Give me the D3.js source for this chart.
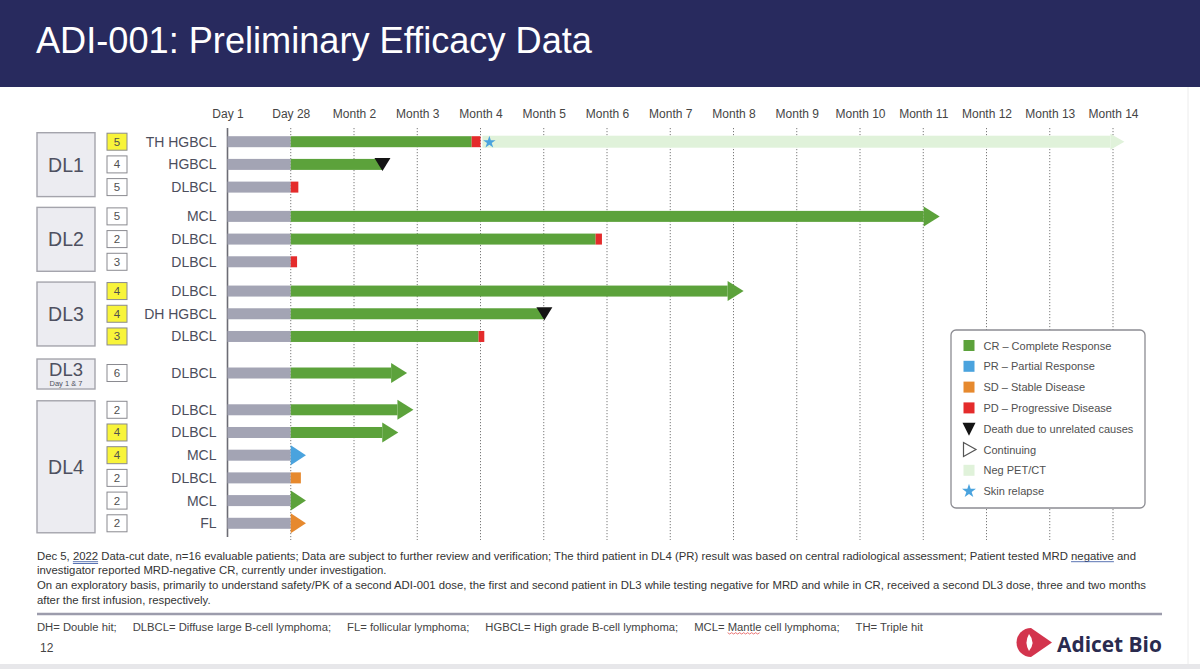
<!DOCTYPE html>
<html>
<head>
<meta charset="utf-8">
<script src="https://cdn.jsdelivr.net/npm/d3@7"></script>
<style>
  body { margin: 0; background: #fff; }
  svg { display: block; font-family: "Liberation Sans", Arial, sans-serif; }
</style>
</head>
<body>
<script>
// patients, top to bottom
const rowLabels = ["TH HGBCL", "HGBCL", "DLBCL", "MCL", "DLBCL", "DLBCL", "DLBCL", "DH HGBCL",
  "DLBCL", "DLBCL", "DLBCL", "DLBCL", "MCL", "DLBCL", "MCL", "FL"];
const rowGroup = [0, 0, 0, 1, 1, 1, 2, 2, 2, 3, 4, 4, 4, 4, 4, 4];
const rowCount = [5, 4, 5, 5, 2, 3, 4, 4, 3, 6, 2, 4, 4, 2, 2, 2];
const rowHighlight = [1, 0, 0, 0, 0, 0, 1, 1, 1, 0, 0, 1, 1, 0, 0, 0];

// dose level cohorts
const groupNames = ["DL1", "DL2", "DL3", "DL3", "DL4"];
const groupNotes = ["", "", "", "Day 1 & 7", ""];

// time axis, one unit per month (Day 1 = 0, Day 28 = 1)
const timeTicks = ["Day 1", "Day 28", "Month 2", "Month 3", "Month 4", "Month 5", "Month 6", "Month 7",
  "Month 8", "Month 9", "Month 10", "Month 11", "Month 12", "Month 13", "Month 14"];

// response phase after Day 28
const responseType = ["CR", "CR", null, "CR", "CR", null, "CR", "CR", "CR", "CR", "CR", "CR", "PR", "SD", "CR", "SD"];
const responseEnd = [3.86, 2.45, null, 11.26, 5.82, null, 8.16, 5.01, 3.97, 2.84, 2.94, 2.70, 1.24, 1.16, 1.24, 1.24];
const progressionEnd = [4.0, null, 1.12, null, 5.92, 1.1, null, null, 4.06, null, null, null, null, null, null, null];
const outcome = ["", "death", "", "continuing", "", "", "continuing", "death", "", "continuing",
  "continuing", "continuing", "continuing", "", "continuing", "continuing"];

// neg PET/CT follow up and skin relapse
const negPetRow = [0];
const negPetStart = [4.03];
const negPetEnd = [14.18];
const relapseRow = [0];
const relapseAt = [4.14];

// legend
const legendKeys = ["CR", "PR", "SD", "PD", "death", "continuing", "neg", "star"];
const legendLabels = ["CR \u2013 Complete Response", "PR \u2013  Partial Response", "SD \u2013 Stable Disease",
  "PD \u2013 Progressive Disease", "Death due to unrelated causes", "Continuing", "Neg PET/CT", "Skin relapse"];

const footnotes = [
  "Dec 5, |2022| Data-cut date, n=16 evaluable patients; Data are subject to further review and verification; The third patient in DL4 (PR) result was based on central radiological assessment; Patient tested MRD |negative| and",
  "investigator reported MRD-negative CR, currently under investigation.",
  "On an exploratory basis, primarily to understand safety/PK of a second ADI-001 dose, the first and second patient in DL3 while testing negative for MRD and while in CR, received a second DL3 dose, three and two months",
  "after the first infusion, respectively."
];
const abbreviations = ["DH= Double hit;", "DLBCL= Diffuse large B-cell lymphoma;", "FL= follicular lymphoma;",
  "HGBCL= High grade B-cell lymphoma;", "MCL= Mantle cell lymphoma;", "TH= Triple hit"];

const colors = { CR: "#5ca23b", PR: "#4aa3de", SD: "#e6892e", PD: "#e42b2b", neg: "#e0f2da", gray: "#a3a4b4" };

const W = 1200, H = 669;
const svg = d3.select("body").append("svg").attr("width", W).attr("height", H);

// header
svg.append("rect").attr("width", W).attr("height", 87).attr("fill", "#282a5e");
const title = svg.append("text").attr("x", 36).attr("y", 53).attr("fill", "#fff")
  .attr("font-size", 31).text("ADI-001: Preliminary Efficacy Data");
fitFont(title, 556);

// faint slide edges
svg.append("rect").attr("x", 0).attr("y", 664).attr("width", W).attr("height", 5).attr("fill", "#e7e7ea");
svg.append("line").attr("x1", 1188).attr("x2", 1188).attr("y1", 87).attr("y2", 664)
  .attr("stroke", "#ececec");

// scales
const x = d3.scaleLinear().domain([0, 14]).range([227.5, 1113]);
const gapAfter = [0.29, 0.29, 0.61, 0.62];
const slot = rowLabels.map((d, i) => i + d3.sum(gapAfter.slice(0, rowGroup[i])));
const y = d3.scaleLinear().domain([0, 1]).range([141.7, 164.4]);
const rowY = slot.map(s => y(s));
const barH = 11;

// axis labels on top
const axis = d3.axisTop(x).tickValues(d3.range(timeTicks.length))
  .tickFormat(i => timeTicks[i]).tickSize(0).tickPadding(4);
const ga = svg.append("g").attr("transform", "translate(0,122)").call(axis);
ga.select(".domain").remove();
ga.selectAll("text").attr("font-size", 12).attr("fill", "#454545")
  .attr("font-family", "'Liberation Sans', Arial, sans-serif");

// grid lines
svg.append("g").selectAll("line").data(d3.range(1, timeTicks.length)).join("line")
  .attr("x1", d => x(d)).attr("x2", d => x(d)).attr("y1", 128).attr("y2", 540)
  .attr("stroke", "#7a7a7a").attr("stroke-width", 1).attr("stroke-dasharray", "1.2,1.8");
svg.append("line").attr("x1", x(0)).attr("x2", x(0)).attr("y1", 128).attr("y2", 537)
  .attr("stroke", "#6c6c74").attr("stroke-width", 1.6);

// cohort boxes
const groupBoxes = groupNames.map((name, g) => {
  const ys = rowY.filter((d, i) => rowGroup[i] === g);
  let top = d3.min(ys) - 9, bottom = d3.max(ys) + 9.5;
  if (groupNotes[g]) { top = d3.min(ys) - 14; bottom = d3.max(ys) + 16; }
  return { name, note: groupNotes[g], top, bottom };
});
const gb = svg.append("g").selectAll("g").data(groupBoxes).join("g");
gb.append("rect").attr("x", 37).attr("width", 58)
  .attr("y", d => d.top).attr("height", d => d.bottom - d.top)
  .attr("fill", "#ececf1").attr("stroke", "#a4a4ac").attr("stroke-width", 1.4);
gb.append("text").attr("x", 66).attr("text-anchor", "middle")
  .attr("y", d => d.note ? (d.top + d.bottom) / 2 + 1.5 : (d.top + d.bottom) / 2 + 7)
  .attr("font-size", d => d.note ? 18.5 : 19.5).attr("fill", "#4e5060").text(d => d.name);
gb.filter(d => d.note).append("text").attr("x", 66).attr("text-anchor", "middle")
  .attr("y", d => (d.top + d.bottom) / 2 + 11.5).attr("font-size", 7.5).attr("fill", "#4e5060")
  .text(d => d.note);

// cohort counts
const nb = svg.append("g").selectAll("g").data(rowCount).join("g")
  .attr("transform", (d, i) => `translate(107,${rowY[i]})`);
nb.append("rect").attr("x", 0).attr("y", -8.5).attr("width", 20).attr("height", 17)
  .attr("fill", (d, i) => rowHighlight[i] ? "#f8f43a" : "#fff")
  .attr("stroke", "#8a8a90").attr("stroke-width", 1);
nb.append("text").attr("x", 10).attr("y", 4).attr("text-anchor", "middle")
  .attr("font-size", 11.5).attr("fill", "#505050").text(d => d);

// row labels
svg.append("g").selectAll("text").data(rowLabels).join("text")
  .attr("x", 216.5).attr("y", (d, i) => rowY[i] + 5).attr("text-anchor", "end")
  .attr("font-size", 14).attr("fill", "#4c4e5c").text(d => d);

// neg PET/CT arrow
const bars = svg.append("g");
negPetRow.forEach((r, k) => {
  const x0 = x(negPetStart[k]), x1 = x(negPetEnd[k]), yy = rowY[r], head = 14;
  bars.append("rect").attr("x", x0).attr("y", yy - 6).attr("width", x1 - head - x0).attr("height", 12)
    .attr("fill", colors.neg);
  bars.append("path").attr("d", `M${x1 - head},${yy - 8}L${x1},${yy}L${x1 - head},${yy + 8}Z`)
    .attr("fill", colors.neg);
});

// Day 1 to Day 28
bars.selectAll(".pre").data(rowY).join("rect").attr("class", "pre")
  .attr("x", x(0)).attr("width", x(1) - x(0)).attr("y", d => d - barH / 2).attr("height", barH)
  .attr("fill", colors.gray);

// response segments
rowY.forEach((yy, i) => {
  if (!responseType[i]) return;
  const c = colors[responseType[i]];
  const x0 = x(1), x1 = x(responseEnd[i]);
  if (outcome[i] === "continuing") {
    const head = 16;
    const base = Math.max(x0, x1 - head);
    if (base > x0) bars.append("rect").attr("x", x0).attr("y", yy - barH / 2)
      .attr("width", base - x0).attr("height", barH).attr("fill", c);
    bars.append("path").attr("d", `M${base},${yy - 10}L${x1},${yy}L${base},${yy + 10}Z`).attr("fill", c);
  } else {
    bars.append("rect").attr("x", x0).attr("y", yy - barH / 2)
      .attr("width", x1 - x0).attr("height", barH).attr("fill", c);
  }
});

// progression
rowY.forEach((yy, i) => {
  if (progressionEnd[i] == null) return;
  const x0 = x(responseEnd[i] != null ? responseEnd[i] : 1);
  bars.append("rect").attr("x", x0).attr("y", yy - barH / 2)
    .attr("width", x(progressionEnd[i]) - x0).attr("height", barH).attr("fill", colors.PD);
});

// deaths
rowY.forEach((yy, i) => {
  if (outcome[i] !== "death") return;
  const xx = x(responseEnd[i]);
  bars.append("path").attr("d", `M${xx - 8},${yy - 6.5}L${xx + 8},${yy - 6.5}L${xx},${yy + 6.5}Z`)
    .attr("fill", "#141414");
});

// skin relapse
relapseRow.forEach((r, k) => {
  bars.append("path").attr("d", d3.symbol(d3.symbolStar, 48)())
    .attr("transform", `translate(${x(relapseAt[k])},${rowY[r] + 0.5})`).attr("fill", colors.PR);
});

// legend
const lg = svg.append("g");
lg.append("rect").attr("x", 951).attr("y", 330).attr("width", 194).attr("height", 178).attr("rx", 5)
  .attr("fill", "#fff").attr("stroke", "#8c8c92").attr("stroke-width", 1.3);
const li = lg.selectAll("g").data(legendKeys).join("g")
  .attr("transform", (d, i) => `translate(969,${345.5 + i * 20.8})`);
li.filter(d => colors[d]).append("rect").attr("x", -5.5).attr("y", -5.5).attr("width", 11).attr("height", 11)
  .attr("fill", d => colors[d]);
li.filter(d => d === "death").append("path").attr("d", "M-6.5,-6L6.5,-6L0,7Z").attr("fill", "#141414");
li.filter(d => d === "continuing").append("path").attr("d", "M-5.5,-7L7,0L-5.5,7Z")
  .attr("fill", "#fff").attr("stroke", "#555").attr("stroke-width", 1.2);
li.filter(d => d === "star").append("path").attr("d", d3.symbol(d3.symbolStar, 60)()).attr("fill", colors.PR);
li.append("text").attr("x", 14.5).attr("y", 4).attr("font-size", 11).attr("fill", "#505050")
  .text((d, i) => legendLabels[i]);

// footnotes
const fy = [559.7, 574.3, 588.7, 603.5];
const fn = svg.append("g").attr("fill", "#333");
const fTexts = footnotes.map((line, i) => {
  const t = fn.append("text").attr("x", 37).attr("y", fy[i]).attr("font-size", 10.5);
  line.split("|").forEach(part => t.append("tspan").text(part));
  return t;
});
fitFont(fTexts[0], 1100);
const ffs = fTexts[0].attr("font-size");
fTexts.forEach(t => t.attr("font-size", ffs));

// underlines on "2022" and "negative"
function underline(t, word, doubleLine) {
  const full = t.text(), start = full.indexOf(word);
  const a = t.node().getExtentOfChar(start), b = t.node().getExtentOfChar(start + word.length - 1);
  const yy = +t.attr("y") + 2;
  const offs = doubleLine ? [0, 1.8] : [0];
  offs.forEach(o => fn.append("line").attr("x1", a.x).attr("x2", b.x + b.width)
    .attr("y1", yy + o).attr("y2", yy + o).attr("stroke", "#2e4f9e").attr("stroke-width", 0.8));
}
underline(fTexts[0], "2022", true);
underline(fTexts[0], "negative", false);

// separator
svg.append("line").attr("x1", 37).attr("x2", 1162).attr("y1", 614).attr("y2", 614)
  .attr("stroke", "#9c9cac").attr("stroke-width", 2.4);

// abbreviations
const ab = svg.append("g").attr("fill", "#444");
const abTexts = abbreviations.map(s => ab.append("text").attr("y", 630.5).attr("font-size", 10.5).text(s));
const abGap = 16;
const abSum = d3.sum(abTexts, t => t.node().getComputedTextLength());
const abFs = 10.5 * (886 - abGap * (abTexts.length - 1)) / abSum;
let ax = 37;
abTexts.forEach(t => {
  t.attr("font-size", abFs).attr("x", ax);
  ax += t.node().getComputedTextLength() + abGap;
});
// spell check squiggle under "Mantle"
{
  const t = abTexts[4].node(), s = abbreviations[4].indexOf("Mantle");
  const a = t.getExtentOfChar(s), b = t.getExtentOfChar(s + 5);
  const pts = d3.range(a.x, b.x + b.width, 2).map((px, k) => [px, 633 + (k % 2 ? 1 : -0.3)]);
  ab.append("path").attr("d", d3.line()(pts)).attr("fill", "none").attr("stroke", "#e03a3a").attr("stroke-width", 0.7);
}

// page number
svg.append("text").attr("x", 40).attr("y", 651.5).attr("font-size", 12).attr("fill", "#444").text("12");

// logo
const logo = svg.append("g");
logo.append("path").attr("d", "M1031,628L1052,642.5L1031,657A14.5,14.5 0 0 1 1031,628Z").attr("fill", "#d3344d");
logo.append("path").attr("d", "M1029,634Q1036,642.5 1029,651Q1024,642.5 1029,634Z").attr("fill", "#fff");
const lt = logo.append("text").attr("x", 1057).attr("y", 652).attr("font-size", 28).attr("font-weight", 700)
  .attr("font-family", "'Open Sans', 'Liberation Sans', sans-serif").attr("fill", "#2a2b4f").text("Adicet Bio");
fitFont(lt, 105);

function fitFont(sel, width) {
  const fs = parseFloat(sel.attr("font-size"));
  const w = sel.node().getComputedTextLength();
  sel.attr("font-size", fs * width / w);
}
</script>
</body>
</html>
